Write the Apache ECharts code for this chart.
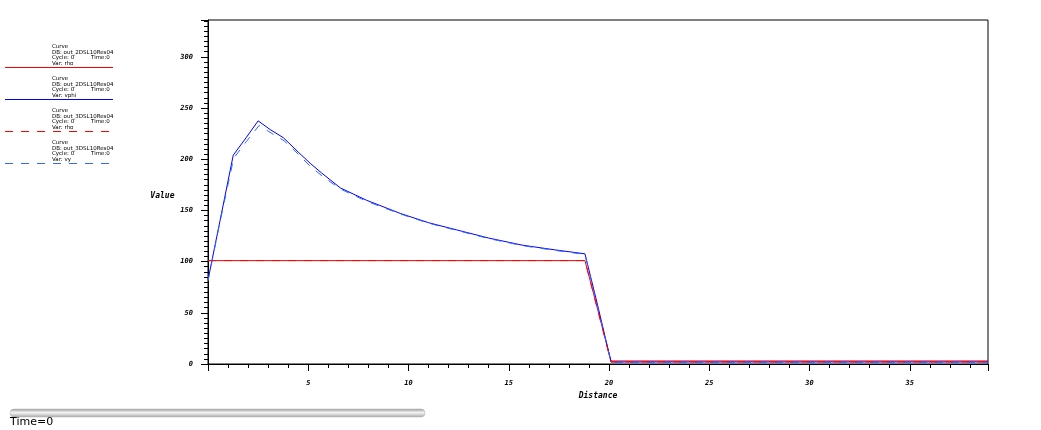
<!DOCTYPE html>
<html>
<head>
<meta charset="utf-8">
<script src="https://cdn.jsdelivr.net/npm/echarts@6/dist/echarts.min.js"></script>
<style>
html,body{margin:0;padding:0;background:#fff;}
#chart{width:1041px;height:430px;}
</style>
</head>
<body>
<div id="chart"></div>
<script>
// ---- data ----
var rho2dX = [0, 18.8, 20.1, 38.9];
var rho2dY = [101, 101, 3, 3];

var vphi2dX = [0, 0.6, 1.26, 1.9, 2.5, 3.1, 3.76, 4.5, 5.1, 5.67, 6.6, 7.9, 9.6, 11, 12.4, 14, 15.7, 17.3, 18.8, 19.4, 20.1, 38.9];
var vphi2dY = [82, 140, 204, 221, 237.5, 229, 221, 207, 196, 186.5, 172, 160, 147, 138, 131, 123, 116, 111.5, 107.6, 60, 2, 2];

var rho3dX = [0, 18.8, 20.1, 38.9];
var rho3dY = [101, 101, 2, 2];

var vy3dX = [0, 0.6, 1.28, 1.9, 2.55, 3.2, 3.8, 4.5, 5.1, 5.8, 6.6, 7.9, 9.6, 11, 12.4, 14, 15.7, 17.3, 18.8, 19.4, 20.1, 38.9];
var vy3dY = [81, 139, 201, 217, 233, 225, 218, 205, 193, 182, 171, 159, 146.5, 137.5, 130.5, 122.5, 115.5, 111, 107, 58, 1.5, 1.5];

var legendVars = ['rho', 'vphi', 'rho', 'vy'];
var legendDBs = ['out_2DSL10Res04', 'out_2DSL10Res04', 'out_3DSL10Res04', 'out_3DSL10Res04'];
var xName = 'Distance';
var yName = 'Value';
var timeLabel = 'Time=0';

function pairs(xs, ys) { return xs.map(function (x, i) { return [x, ys[i]]; }); }

var colors = ['#ff0000', '#0000ff', '#ff0000', '#3366ff'];
var dashed = [false, false, true, true];

var chart = echarts.init(document.getElementById('chart'), null, {renderer: 'canvas'});

var tickFont = {fontFamily: 'DejaVu Sans Mono', fontStyle: 'italic', fontWeight: 'bold', fontSize: 7, color: '#000'};

var graphics = [];
for (var k = 0; k < 4; k++) {
  var y0 = 43.5 + k * 32;
  graphics.push({
    type: 'text', left: 52, top: y0,
    style: {text: 'Curve\nDB: ' + legendDBs[k] + '\nCycle: 0\nVar: ' + legendVars[k],
      font: '5.5px "DejaVu Sans"', fill: '#000', lineHeight: 5.7}
  });
  graphics.push({
    type: 'text', left: 91, top: y0 + 11.4,
    style: {text: 'Time:0', font: '5.5px "DejaVu Sans"', fill: '#000'}
  });
  var ls = {stroke: colors[k], lineWidth: 1};
  if (dashed[k]) ls.lineDash = [8, 8];
  graphics.push({
    type: 'line', shape: {x1: 5, y1: y0 + 24, x2: 113, y2: y0 + 24},
    style: ls
  });
}
graphics.push({
  type: 'rect', shape: {x: 10, y: 409, width: 415, height: 8, r: 4},
  style: {
    fill: {type: 'linear', x: 0, y: 0, x2: 0, y2: 1, colorStops: [
      {offset: 0, color: '#9a9a9a'}, {offset: 0.45, color: '#f4f4f4'}, {offset: 1, color: '#a8a8a8'}
    ]},
    stroke: '#b0b0b0', lineWidth: 0.5
  }
});
graphics.push({
  type: 'text', left: 10, top: 417,
  style: {text: timeLabel, font: '11px "DejaVu Sans"', fill: '#000'}
});

var series = [
  {x: rho2dX, y: rho2dY}, {x: vphi2dX, y: vphi2dY}, {x: rho3dX, y: rho3dY}, {x: vy3dX, y: vy3dY}
].map(function (s, i) {
  return {
    type: 'line', data: pairs(s.x, s.y), symbol: 'none', animation: false,
    lineStyle: {color: colors[i], width: 1, type: dashed[i] ? [8, 8] : 'solid'}
  };
});

chart.setOption({
  animation: false,
  backgroundColor: '#fff',
  grid: {left: 208, top: 20, width: 780, height: 344, show: true, borderColor: '#000', borderWidth: 1, backgroundColor: 'transparent'},
  xAxis: {
    type: 'value', min: 0, max: 38.9, interval: 5,
    name: xName, nameLocation: 'middle', nameGap: 25,
    nameTextStyle: {fontFamily: 'DejaVu Sans Mono', fontStyle: 'italic', fontWeight: 'bold', fontSize: 8, color: '#000'},
    axisLine: {show: true, lineStyle: {color: '#000', width: 1}},
    axisTick: {show: true, length: 7, lineStyle: {color: '#000'}},
    minorTick: {show: true, splitNumber: 5, length: 4, lineStyle: {color: '#000'}},
    splitLine: {show: false},
    axisLabel: Object.assign({margin: 16, showMaxLabel: false, formatter: function (v) { return v === 0 ? '' : String(v); }}, tickFont)
  },
  yAxis: {
    type: 'value', min: 0, max: 336, interval: 50,
    name: yName, nameLocation: 'middle', nameGap: 27, nameRotate: 0,
    nameTextStyle: {fontFamily: 'DejaVu Sans Mono', fontStyle: 'italic', fontWeight: 'bold', fontSize: 8, color: '#000', verticalAlign: 'top'},
    axisLine: {show: true, lineStyle: {color: '#000', width: 1}},
    axisTick: {show: true, length: 7, lineStyle: {color: '#000'}},
    minorTick: {show: true, splitNumber: 10, length: 4, lineStyle: {color: '#000'}},
    splitLine: {show: false},
    axisLabel: Object.assign({margin: 15, showMaxLabel: false}, tickFont)
  },
  graphic: graphics,
  series: series
});
</script>
</body>
</html>
